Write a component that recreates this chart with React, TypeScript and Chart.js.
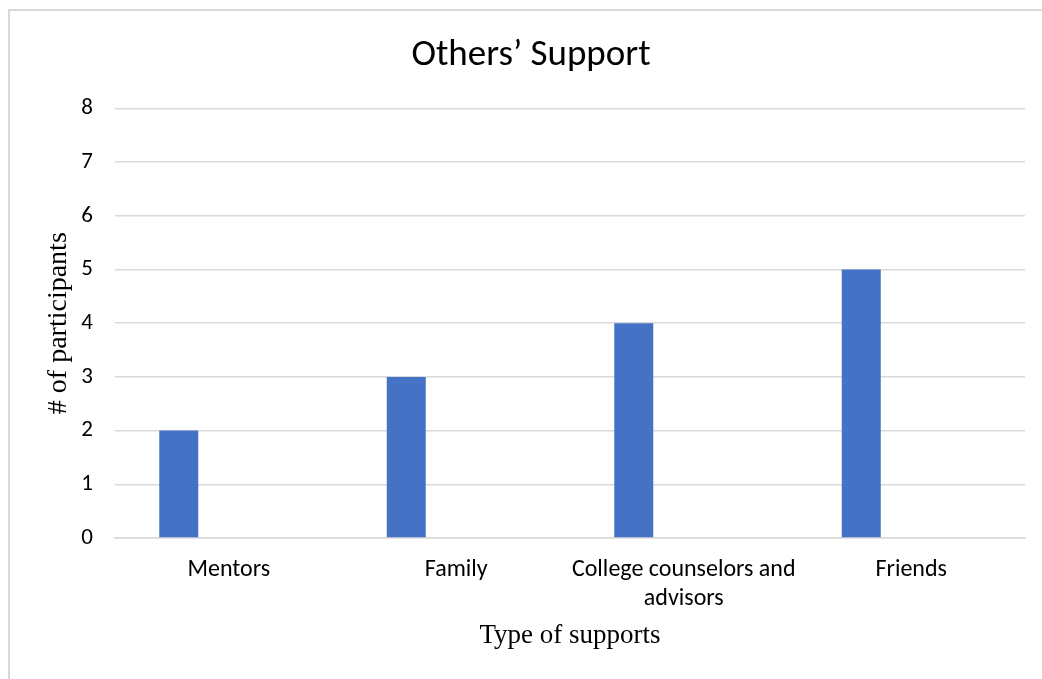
import React, { useEffect, useRef } from "react";
import { Chart, registerables } from "chart.js";

Chart.register(...registerables);

const categories: (string | string[])[] = [
  "Mentors",
  "Family",
  ["College counselors and", "advisors"],
  "Friends",
];
const participants: number[] = [2, 3, 4, 5];
const emptySeries: (number | null)[] = [null, null, null, null];
const yTicks: number[] = [0, 1, 2, 3, 4, 5, 6, 7, 8];

const chartTitle = "Others\u2019 Support";
const xTitle = "Type of supports";
const yTitle = "# of participants";

const SANS = "Carlito, Lato, 'Open Sans', sans-serif";
const SERIF = "'Liberation Serif', 'DejaVu Serif', serif";

const centerTitlePlugin = {
  id: "centerTitle",
  afterLayout(chart: any) {
    const tb = chart.titleBlock;
    if (tb) {
      tb.left = 0;
      tb.right = 1042;
    }
  },
};

export default function App() {
  const ref = useRef<HTMLCanvasElement | null>(null);

  useEffect(() => {
    if (!ref.current) return;
    const chart = new Chart(ref.current, {
      type: "bar",
      data: {
        labels: categories,
        datasets: [
          {
            label: "Participants",
            data: participants,
            backgroundColor: "#4472C4",
            borderWidth: 0,
            categoryPercentage: 0.879,
            barPercentage: 0.39,
          },
          {
            label: "",
            data: emptySeries,
            backgroundColor: "#ED7D31",
            categoryPercentage: 0.879,
            barPercentage: 0.39,
          },
        ],
      },
      plugins: [centerTitlePlugin],
      options: {
        animation: false,
        responsive: false,
        maintainAspectRatio: false,
        layout: { padding: { left: 0, right: 17, top: 0, bottom: 0 } },
        plugins: {
          legend: { display: false },
          tooltip: { enabled: false },
          title: {
            display: true,
            text: chartTitle,
            color: "#000000",
            font: { family: SANS, size: 37, weight: "normal", lineHeight: 1.2 },
            padding: { top: 23, bottom: 30 },
          },
        },
        scales: {
          x: {
            grid: { display: false, drawTicks: false },
            border: { display: true, color: "#d9d9d9", width: 1.5 },
            ticks: {
              color: "#000000",
              font: { family: SANS, size: 24, lineHeight: 1.2 },
              padding: 18,
              maxRotation: 0,
              minRotation: 0,
              autoSkip: false,
            },
            title: {
              display: true,
              text: xTitle,
              color: "#000000",
              font: { family: SERIF, size: 27, lineHeight: 1.2 },
              padding: { top: 0, bottom: 27 },
            },
            afterFit: (scale: any) => {
              scale.height = 141;
            },
          },
          y: {
            min: 0,
            max: 8,
            afterBuildTicks: (scale: any) => {
              scale.ticks = yTicks.map((v) => ({ value: v }));
            },
            grid: { color: "#d9d9d9", lineWidth: 1.5, drawTicks: false },
            border: { display: false },
            ticks: {
              color: "#000000",
              font: { family: SANS, size: 23 },
              padding: 22,
              stepSize: 1,
            },
            title: {
              display: true,
              text: yTitle,
              color: "#000000",
              font: { family: SERIF, size: 28, lineHeight: 1.2 },
              padding: { top: 32, bottom: 0 },
            },
            afterFit: (scale: any) => {
              scale.width = 105;
            },
          },
        },
      },
    });
    return () => chart.destroy();
  }, []);

  return (
    <div
      style={{
        position: "fixed",
        left: 8,
        top: 9,
        width: 1040,
        height: 680,
        borderLeft: "2px solid #d9d9d9",
        borderTop: "2px solid #d9d9d9",
        boxSizing: "border-box",
        background: "#ffffff",
      }}
    >
      <canvas ref={ref} width={1032} height={668} style={{ display: "block" }} />
    </div>
  );
}
